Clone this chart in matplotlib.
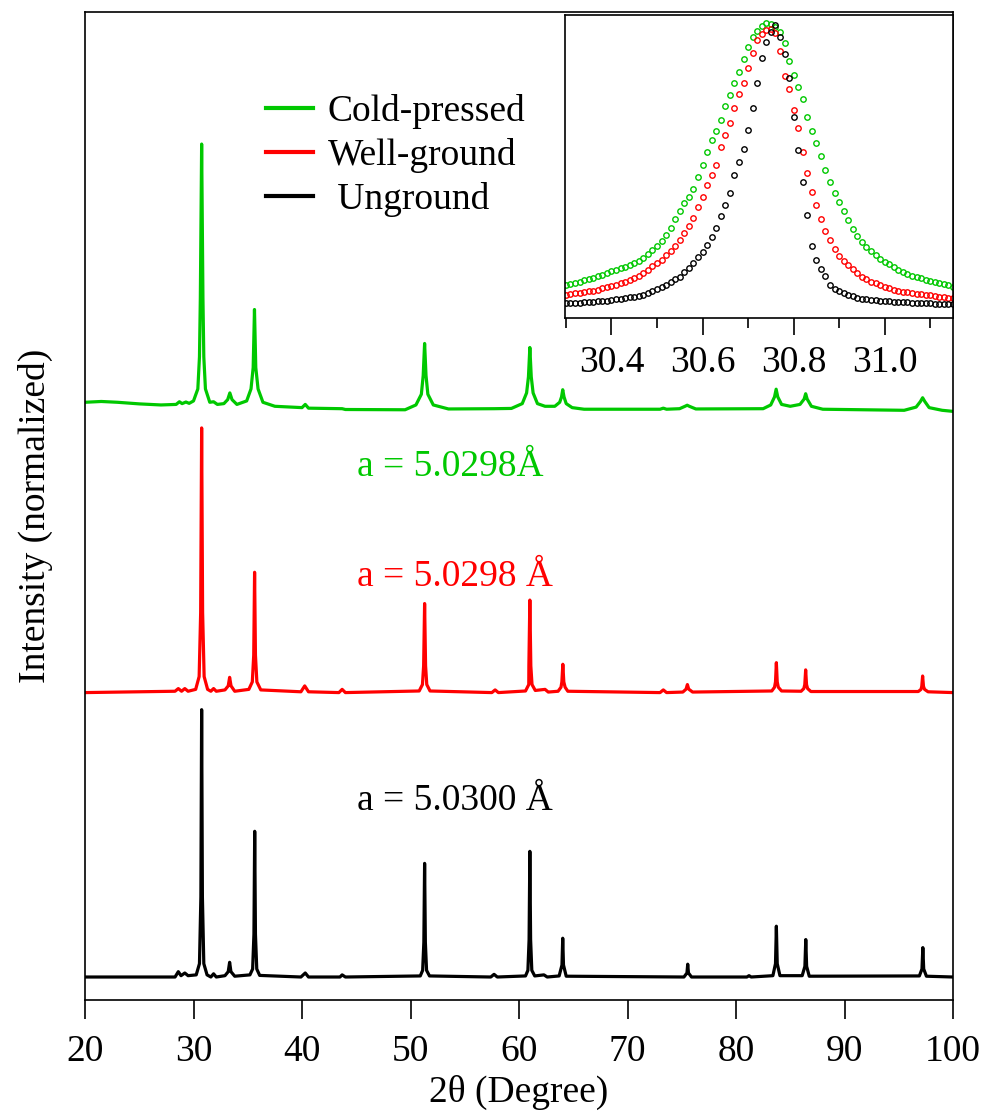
import numpy as np
import matplotlib
matplotlib.use("Agg")
import matplotlib.pyplot as plt

plt.rcParams["font.family"] = ["Liberation Serif", "DejaVu Serif"]
plt.rcParams["font.size"] = 27

# colours
green = "#00c800"
red = "#ff0000"
black = "#000000"

# ---- main patterns (2theta, normalized intensity) ----
ung_tt = [20.0, 28.3, 28.6, 28.85, 29.2, 29.5, 30.25, 30.55, 30.68, 30.75, 30.82, 30.95,
          31.25, 31.6, 31.85, 32.1, 32.9, 33.2, 33.33, 33.45, 33.8, 35.2, 35.45, 35.57,
          35.64, 35.71, 35.83, 36.1, 39.9, 40.3, 40.6, 43.5, 43.7, 44.0, 50.9, 51.12,
          51.23, 51.3, 51.37, 51.48, 51.75, 57.4, 57.7, 58.0, 60.6, 60.82, 60.93, 61.0,
          61.07, 61.18, 61.45, 62.3, 62.6, 63.7, 63.96, 64.03, 64.1, 64.35, 75.2, 75.48,
          75.55, 75.62, 75.9, 81.0, 81.2, 81.4, 83.4, 83.64, 83.72, 83.8, 84.05, 86.1,
          86.35, 86.43, 86.51, 86.75, 96.9, 97.14, 97.22, 97.3, 97.55, 100.0]
ung_int = [0.0, 0.0, 0.02, 0.005, 0.015, 0.005, 0.008, 0.05, 0.3, 1.0, 0.3, 0.05,
           0.008, 0.0, 0.012, 0.0, 0.005, 0.02, 0.055, 0.02, 0.003, 0.008, 0.03, 0.16,
           0.545, 0.16, 0.03, 0.006, 0.0, 0.015, 0.0, 0.0, 0.008, 0.0, 0.004, 0.025,
           0.13, 0.425, 0.13, 0.025, 0.004, 0.0, 0.01, 0.0, 0.004, 0.025, 0.14, 0.47,
           0.14, 0.025, 0.004, 0.008, 0.0, 0.004, 0.045, 0.145, 0.045, 0.003, 0.0, 0.015,
           0.048, 0.015, 0.0, 0.0, 0.005, 0.0, 0.005, 0.05, 0.19, 0.05, 0.005, 0.005,
           0.04, 0.14, 0.04, 0.003, 0.004, 0.03, 0.11, 0.03, 0.003, 0.0]

well_tt = [20.0, 28.3, 28.6, 28.9, 29.2, 29.5, 30.2, 30.52, 30.66, 30.75, 30.84, 30.98,
           31.3, 31.6, 31.85, 32.1, 32.9, 33.2, 33.33, 33.46, 33.8, 35.1, 35.42, 35.55,
           35.63, 35.71, 35.84, 36.2, 39.9, 40.25, 40.6, 43.4, 43.7, 44.0, 50.8, 51.1,
           51.21, 51.3, 51.39, 51.5, 51.8, 57.5, 57.8, 58.1, 60.6, 60.9, 60.91, 61.0,
           61.09, 61.2, 61.5, 62.4, 62.7, 63.6, 63.87, 63.95, 64.04, 64.13, 64.25, 64.5,
           73.0, 73.3, 73.6, 75.1, 75.4, 75.52, 75.64, 76.0, 83.3, 83.55, 83.64, 83.72,
           83.8, 83.9, 84.2, 86.0, 86.25, 86.34, 86.42, 86.5, 86.6, 86.9, 96.8, 97.05,
           97.12, 97.2, 97.28, 97.38, 97.7, 100.0]
well_int = [0.0, 0.005, 0.015, 0.005, 0.015, 0.005, 0.012, 0.06, 0.3, 0.99, 0.3, 0.06,
            0.012, 0.005, 0.015, 0.005, 0.01, 0.025, 0.057, 0.025, 0.005, 0.012, 0.04, 0.14,
            0.45, 0.14, 0.04, 0.01, 0.003, 0.025, 0.003, 0.0, 0.012, 0.0, 0.006, 0.03,
            0.1, 0.333, 0.1, 0.03, 0.006, 0.0, 0.01, 0.0, 0.006, 0.03, 0.1, 0.346,
            0.1, 0.03, 0.008, 0.012, 0.002, 0.005, 0.02, 0.04, 0.106, 0.04, 0.02, 0.005,
            0.0, 0.01, 0.0, 0.002, 0.013, 0.03, 0.013, 0.002, 0.006, 0.02, 0.04, 0.112,
            0.04, 0.02, 0.006, 0.005, 0.015, 0.03, 0.085, 0.03, 0.015, 0.004, 0.004, 0.012,
            0.023, 0.062, 0.023, 0.012, 0.003, 0.0]

cold_tt = [20.0, 21.5, 23.0, 25.0, 27.0, 28.4, 28.7, 28.95, 29.3, 29.6, 30.0, 30.4,
           30.55, 30.63, 30.75, 30.87, 30.95, 31.1, 31.5, 31.85, 32.2, 32.8, 33.15, 33.35,
           33.55, 34.0, 34.9, 35.3, 35.5, 35.62, 35.74, 35.95, 36.4, 37.5, 40.0, 40.3,
           40.6, 43.7, 44.0, 49.5, 50.5, 51.0, 51.17, 51.3, 51.43, 51.6, 52.1, 53.5, 57.7,
           59.3, 60.3, 60.7, 60.87, 61.0, 61.13, 61.3, 61.7, 62.4, 63.3, 63.75, 63.92,
           64.03, 64.15, 64.35, 64.9, 66.0, 73.0, 73.3, 73.6, 74.8, 75.3, 75.5, 75.7,
           76.3, 82.5, 83.2, 83.55, 83.7, 83.85, 84.2, 85.0, 85.9, 86.28, 86.42, 86.56,
           86.95, 88.0, 95.5, 96.6, 97.0, 97.2, 97.4, 97.8, 99.0, 100.0]
cold_int = [0.030, 0.033, 0.030, 0.024, 0.020, 0.022, 0.032, 0.025, 0.031, 0.026, 0.035, 0.08,
            0.2, 0.42, 0.996, 0.42, 0.2, 0.08, 0.03, 0.032, 0.022, 0.025, 0.04, 0.065,
            0.04, 0.022, 0.035, 0.08, 0.16, 0.377, 0.16, 0.08, 0.03, 0.015, 0.01, 0.022,
            0.008, 0.006, 0.003, 0.002, 0.02, 0.06, 0.13, 0.25, 0.13, 0.06, 0.02, 0.005, 0.006,
            0.007, 0.025, 0.065, 0.125, 0.235, 0.125, 0.065, 0.025, 0.015, 0.015, 0.03, 0.05,
            0.077, 0.05, 0.025, 0.01, 0.004, 0.004, 0.008, 0.004, 0.006, 0.015, 0.019, 0.015,
            0.005, 0.006, 0.02, 0.05, 0.079, 0.05, 0.022, 0.015, 0.022, 0.042, 0.062, 0.042,
            0.015, 0.004, 0.0, 0.012, 0.033, 0.047, 0.033, 0.01, 0.0, -0.004]

offsets = [0.0, 1.064, 2.12]   # unground, well-ground, cold-pressed

# ---- inset: (104) peak region, 0.01 deg steps ----
inset_tt = np.round(np.arange(30.30, 31.155, 0.01), 2)
cold_peak = [0.113, 0.116, 0.120, 0.123, 0.128, 0.131, 0.134, 0.141, 0.147, 0.154, 0.159,
             0.164, 0.168, 0.173, 0.180, 0.188, 0.194, 0.203, 0.217, 0.231, 0.245, 0.261,
             0.281, 0.304, 0.334, 0.363, 0.389, 0.411, 0.437, 0.477, 0.518, 0.564, 0.603,
             0.635, 0.670, 0.718, 0.756, 0.795, 0.835, 0.878, 0.920, 0.951, 0.974, 0.991,
             0.999, 0.998, 0.988, 0.968, 0.931, 0.872, 0.825, 0.784, 0.742, 0.682, 0.634,
             0.592, 0.550, 0.502, 0.460, 0.423, 0.393, 0.362, 0.332, 0.303, 0.277, 0.256,
             0.242, 0.227, 0.214, 0.201, 0.191, 0.182, 0.173, 0.164, 0.157, 0.149, 0.144,
             0.139, 0.134, 0.129, 0.125, 0.123, 0.120, 0.115, 0.112, 0.106]
well_peak = [0.078, 0.080, 0.084, 0.086, 0.088, 0.090, 0.093, 0.096, 0.101, 0.104, 0.107,
             0.113, 0.118, 0.122, 0.129, 0.136, 0.144, 0.153, 0.164, 0.175, 0.186, 0.198,
             0.212, 0.228, 0.243, 0.264, 0.288, 0.312, 0.340, 0.376, 0.409, 0.451, 0.484,
             0.520, 0.581, 0.620, 0.660, 0.711, 0.758, 0.798, 0.846, 0.899, 0.941, 0.964,
             0.976, 0.981, 0.967, 0.904, 0.820, 0.775, 0.705, 0.643, 0.564, 0.490, 0.428,
             0.383, 0.336, 0.296, 0.263, 0.235, 0.211, 0.192, 0.179, 0.167, 0.153, 0.140,
             0.131, 0.123, 0.118, 0.112, 0.106, 0.102, 0.095, 0.093, 0.089, 0.087, 0.085,
             0.082, 0.080, 0.078, 0.077, 0.075, 0.072, 0.070, 0.068, 0.067]
ung_peak = [0.050, 0.051, 0.051, 0.052, 0.053, 0.054, 0.055, 0.056, 0.058, 0.059, 0.061,
            0.063, 0.064, 0.067, 0.070, 0.072, 0.076, 0.079, 0.086, 0.093, 0.099, 0.106,
            0.113, 0.121, 0.131, 0.140, 0.156, 0.171, 0.186, 0.207, 0.224, 0.249, 0.276,
            0.304, 0.347, 0.384, 0.423, 0.486, 0.529, 0.573, 0.637, 0.711, 0.795, 0.880,
            0.937, 0.971, 0.992, 0.954, 0.895, 0.812, 0.682, 0.569, 0.462, 0.349, 0.244,
            0.197, 0.166, 0.144, 0.112, 0.099, 0.090, 0.084, 0.077, 0.073, 0.069, 0.066,
            0.064, 0.062, 0.061, 0.059, 0.058, 0.056, 0.055, 0.054, 0.053, 0.053, 0.052,
            0.052, 0.051, 0.051, 0.050, 0.049, 0.049, 0.047, 0.047, 0.046]

labels = ["Cold-pressed", "Well-ground", " Unground"]
lattice = ["a = 5.0298Å", "a = 5.0298 Å", "a = 5.0300 Å"]

fig = plt.figure(figsize=(9.85, 11.12), dpi=100)
ax = fig.add_axes([85 / 985, 1 - 1000 / 1112, 868 / 985, 988 / 1112])

lw = 2.3
l_cold, = ax.plot(cold_tt, np.array(cold_int) + offsets[2], color=green, lw=lw)
l_well, = ax.plot(well_tt, np.array(well_int) + offsets[1], color=red, lw=lw)
l_ung, = ax.plot(ung_tt, np.array(ung_int) + offsets[0], color=black, lw=lw)

ax.set_xlim(20, 100)
ax.set_ylim(-0.086, 3.61)
ax.set_xticks(np.arange(20, 101, 10))
ax.set_yticks([])
ax.tick_params(axis="x", direction="out", length=14, width=1.2, pad=11, labelsize=27)
for s in ax.spines.values():
    s.set_linewidth(1.2)

ax.set_xlabel("2θ (Degree)", fontsize=27)
ax.xaxis.set_label_coords(0.5, -0.076)
ax.set_ylabel("Intensity (normalized)", fontsize=27)
ax.yaxis.set_label_coords(-0.037, 0.49)

leg = ax.legend([l_cold, l_well, l_ung], labels, loc="upper left",
                bbox_to_anchor=(0.2085, 0.917), frameon=False, fontsize=27,
                handlelength=1.25, handletextpad=0.4, labelspacing=0.24,
                borderpad=0, borderaxespad=0)
for h in leg.get_lines():
    h.set_linewidth(3)

for txt, col, yy in zip(lattice, [green, red, black], [0.54, 0.428, 0.202]):
    ax.text(0.3134, yy, txt, color=col, fontsize=27, transform=ax.transAxes,
            ha="left", va="center")

# inset
axi = fig.add_axes([565 / 985, 1 - 318 / 1112, 388 / 985, 303 / 1112])
ms = 3.9
axi.plot(inset_tt, cold_peak, "o", mfc="none", mec=green, ms=ms, mew=1.0)
axi.plot(inset_tt, well_peak, "o", mfc="none", mec=red, ms=ms, mew=1.0)
axi.plot(inset_tt, ung_peak, "o", mfc="none", mec=black, ms=ms, mew=1.0)
axi.set_xlim(30.298, 31.15)
axi.set_ylim(0, 1.027)
axi.set_yticks([])
axi.set_xticks([30.4, 30.6, 30.8, 31.0])
axi.set_xticklabels(["30.4", "30.6", "30.8", "31.0"])
axi.set_xticks([30.3, 30.5, 30.7, 30.9, 31.1], minor=True)
axi.tick_params(axis="x", which="major", direction="out", length=12, width=1.2,
                pad=8, labelsize=27)
axi.tick_params(axis="x", which="minor", direction="out", length=7, width=1.2)
for s in axi.spines.values():
    s.set_linewidth(1.2)

fig.savefig("out.png", dpi=100)
